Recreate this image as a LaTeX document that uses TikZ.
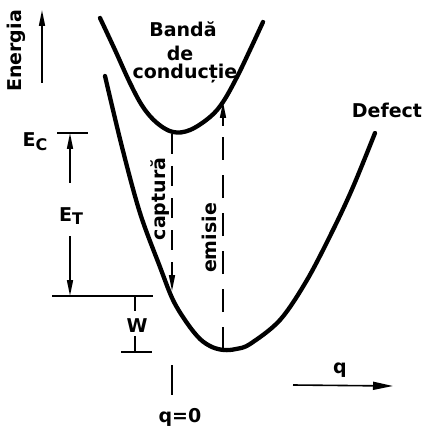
\documentclass[tikz,border=0pt]{standalone}
\usepackage{fontspec}
\setmainfont{DejaVu Sans}
\usetikzlibrary{arrows.meta,calc}
\begin{document}
\begin{tikzpicture}[x=1pt,y=-1pt,
  curve/.style={line width=4.3pt,line cap=round,line join=round},
  thin/.style={line width=1.6pt},
  tip/.style={-{Triangle[length=16pt,width=6pt]}},
  dsh/.style={line width=2pt,dash pattern=on 20pt off 12pt},
  lbl/.style={inner sep=0pt,font=\fontsize{19}{21}\selectfont\bfseries},
  bl/.style={lbl,anchor=base}]
\useasboundingbox (0,0) rectangle (425,430);
% curves
\draw[curve] plot[smooth,tension=0.6] coordinates {(100,18) (115,50) (130,83) (143,107) (157,123) (173,132) (190,130) (210,117) (223,102) (237,77) (250,50) (263,22)};
\draw[curve] plot[smooth,tension=0.55] coordinates {(105,76) (122,147) (140,213) (160,267) (173,300) (187,323) (200,339) (212,347) (224,350) (236,349) (250,344) (280,320) (307,280) (333,230) (353,187) (375,133)};
% labels
\node[lbl,rotate=90] (en) at (16,51) {Energia};
\node[bl] (b1) at (183,37) {Bandă};
\node[bl] (b2) at (180,60.5) {de};
\node[bl] (b3) at (185,79) {conducție};
\node[bl] (def) at (387,118) {Defect};
\node[bl] (ec) at (35,147) {E\raisebox{-0.3ex}{\fontsize{16}{16}\selectfont C}};
\node[bl] (et) at (71,221) {E\raisebox{-0.35ex}{\fontsize{16}{16}\selectfont T}};
\node[bl] (w) at (137,332) {W};
\node[lbl,rotate=90] (cap) at (160,199) {captură};
\node[lbl,rotate=90] (emi) at (209,238) {emisie};
\node[bl] (q0) at (180,422) {q=0};
\node[bl] (q) at (340,373) {q};
% coordinates
\coordinate (e0) at (42,83); \coordinate (e1) at (42,10);
\coordinate (ecl) at (57,133); \coordinate (ecr) at (88,133);
\coordinate (ecb) at (70,183); \coordinate (ect) at (70,133);
\coordinate (ett) at (70,236); \coordinate (etb) at (70,296);
\coordinate (hl) at (52,296); \coordinate (hr) at (153,296);
\coordinate (w1) at (135,296); \coordinate (w2) at (135,311);
\coordinate (w3) at (135,336); \coordinate (w4) at (135,352);
\coordinate (wl) at (121,352); \coordinate (wr) at (152,352);
\coordinate (t1) at (172,365); \coordinate (t2) at (172,395);
\coordinate (c1) at (172,134); \coordinate (c2) at (172,291);
\coordinate (m1) at (223,350); \coordinate (m2) at (223,102);
\coordinate (qa) at (293,385); \coordinate (qb) at (393,386);
% lines
\draw[thin,tip] (e0) -- (e1);
\draw[thin] (ecl) -- (ecr);
\draw[thin,tip] (ecb) -- (ect);
\draw[thin,tip] (ett) -- (etb);
\draw[thin] (hl) -- (hr);
\draw[thin] (w1) -- (w2);
\draw[thin] (w3) -- (w4);
\draw[thin] (wl) -- (wr);
\draw[thin] (t1) -- (t2);
\draw[dsh] (c1) -- ($(c2)+(0,-14)$);
\draw[thin,tip] ($(c2)+(0,-22)$) -- (c2);
\draw[dsh,dash pattern=on 23pt off 15pt] (m1) -- ($(m2)+(0,14)$);
\draw[thin,tip] ($(m2)+(0,24)$) -- (m2);
\draw[thin,-{Triangle[length=20pt,width=8pt]}] (qa) -- (qb);
\end{tikzpicture}
\end{document}
